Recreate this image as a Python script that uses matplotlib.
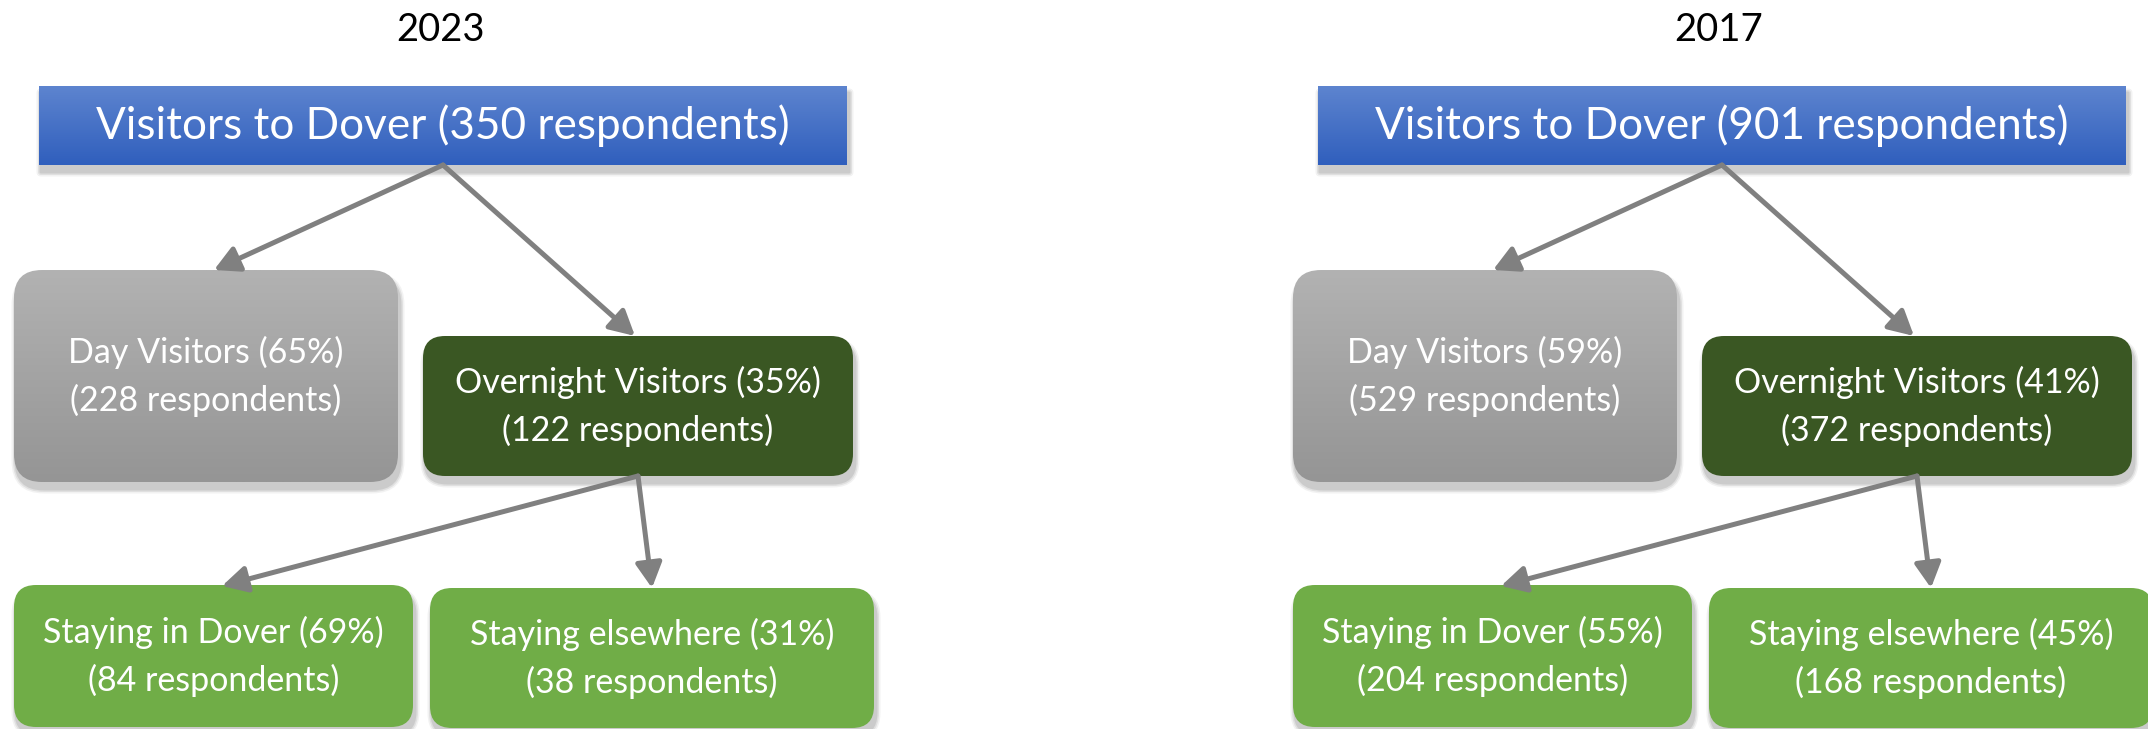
import numpy as np
import matplotlib.pyplot as plt
from matplotlib.patches import FancyBboxPatch, FancyArrowPatch

# survey data
years = ['2023', '2017']
totals = [350, 901]
day_counts = [228, 529]
day_pct = [65, 59]
night_counts = [122, 372]
night_pct = [35, 41]
dover_counts = [84, 204]
dover_pct = [69, 55]
else_counts = [38, 168]
else_pct = [31, 45]

plt.rcParams['font.family'] = ['Lato', 'DejaVu Sans']

W, H = 2148, 729
fig = plt.figure(figsize=(W/100, H/100), dpi=100)
ax = fig.add_axes([0, 0, 1, 1])

blue = ('#5d84cf', '#305fbd')
grey = ('#b2b2b2', '#959595')
dark_green = '#3a5723'
light_green = '#70ad47'
arrow_col = '#808080'


def shadow(x, y, w, h, r):
    for k, a in zip([9, 6, 3], [0.05, 0.07, 0.09]):
        s = FancyBboxPatch((x - k/2 + 2, y + 4 - k/2 + 3), w + k, h + k,
                           boxstyle=f'round,pad=0,rounding_size={r + k/2}',
                           fc='black', ec='none', alpha=a, zorder=1)
        ax.add_patch(s)


def box(x, y, w, h, r, color, text, fs):
    shadow(x, y, w, h, r)
    if r > 0:
        style = f'round,pad=0,rounding_size={r}'
    else:
        style = 'square,pad=0'
    if isinstance(color, tuple):
        p = FancyBboxPatch((x, y), w, h, boxstyle=style, fc='none', ec='none', zorder=2)
        ax.add_patch(p)
        c0 = np.array(plt.matplotlib.colors.to_rgb(color[0]))
        c1 = np.array(plt.matplotlib.colors.to_rgb(color[1]))
        t = np.linspace(0, 1, 100)[:, None, None]
        img = c0 * (1 - t) + c1 * t
        im = ax.imshow(img, extent=(x, x + w, y + h, y), aspect='auto', zorder=2)
        im.set_clip_path(p)
    else:
        p = FancyBboxPatch((x, y), w, h, boxstyle=style, fc=color, ec='none', zorder=2)
        ax.add_patch(p)
    ax.text(x + w/2, y + h/2, text, color='white', fontsize=fs, ha='center',
            va='center', linespacing=1.55, zorder=3)


def arrow(p0, p1):
    a = FancyArrowPatch(p0, p1, arrowstyle='-|>,head_length=0.75,head_width=0.4',
                        mutation_scale=20, lw=3.6, color=arrow_col,
                        shrinkA=0, shrinkB=0, zorder=4)
    ax.add_patch(a)


for i, yr in enumerate(years):
    dx = 1279 * i
    ax.text(440 + dx, 30, yr, fontsize=27.5, ha='center', va='center', color='black')

    box(39 + dx, 86, 808, 79, 0, blue,
        f'Visitors to Dover ({totals[i]} respondents)', 31.7)
    box(14 + dx, 270, 384, 212, 28, grey,
        f'Day Visitors ({day_pct[i]}%)\n({day_counts[i]} respondents)', 24.5)
    box(423 + dx, 336, 430, 140, 22, dark_green,
        f'Overnight Visitors ({night_pct[i]}%)\n({night_counts[i]} respondents)', 24.5)
    box(14 + dx, 585, 399, 142, 22, light_green,
        f'Staying in Dover ({dover_pct[i]}%)\n({dover_counts[i]} respondents)', 24.5)
    box(430 + dx, 588, 444, 140, 22, light_green,
        f'Staying elsewhere ({else_pct[i]}%)\n({else_counts[i]} respondents)', 24.5)

    arrow((443 + dx, 165), (214 + dx, 270))
    arrow((443 + dx, 165), (635 + dx, 336))
    arrow((638 + dx, 476), (222 + dx, 586))
    arrow((638 + dx, 476), (652 + dx, 588))

ax.set_xlim(0, W)
ax.set_ylim(H, 0)
ax.axis('off')

plt.savefig('out.png', dpi=100)
